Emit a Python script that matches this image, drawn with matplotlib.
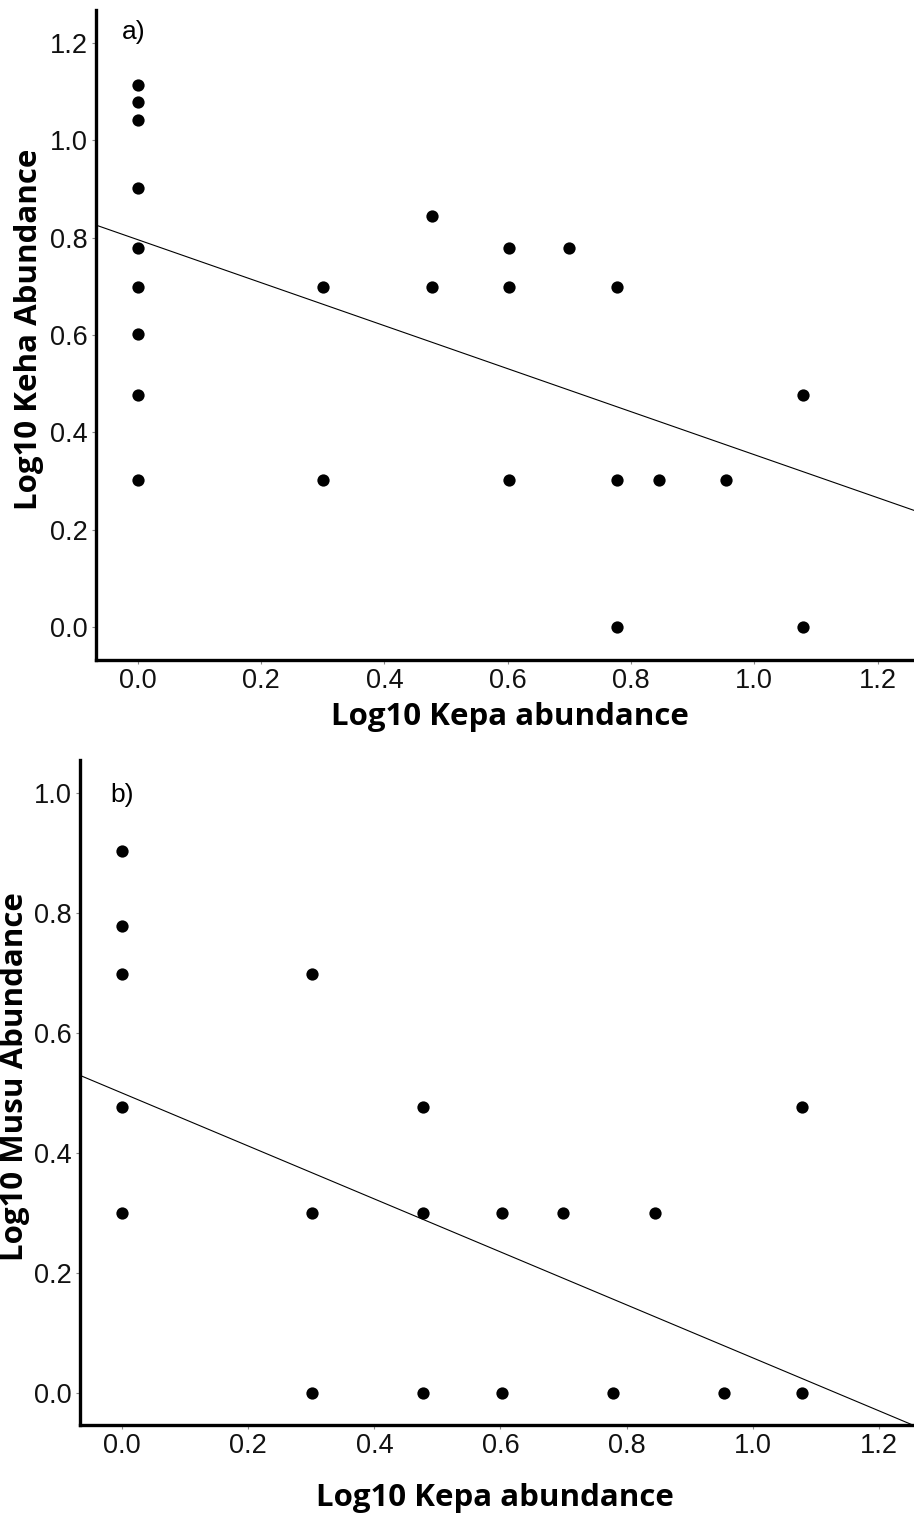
import matplotlib
matplotlib.use("Agg")
import matplotlib.pyplot as plt
import numpy as np

# Panel a data
kepa_a = [0, 0, 0, 0, 0, 0, 0, 0, 0,
          0.301, 0.301,
          0.477, 0.477,
          0.602, 0.602, 0.602,
          0.699,
          0.778, 0.778, 0.778,
          0.845,
          0.954,
          1.079, 1.079]
keha_a = [1.114, 1.079, 1.041, 0.903, 0.778, 0.699, 0.602, 0.477, 0.301,
          0.699, 0.301,
          0.845, 0.699,
          0.778, 0.699, 0.301,
          0.778,
          0.699, 0.301, 0.0,
          0.301,
          0.301,
          0.477, 0.0]
fit_a = (0.796, -0.442)  # intercept, slope

# Panel b data
kepa_b = [0, 0, 0, 0, 0,
          0.301, 0.301, 0.301,
          0.477, 0.477, 0.477,
          0.602, 0.602,
          0.699,
          0.778,
          0.845,
          0.954,
          1.079, 1.079]
musu_b = [0.903, 0.778, 0.699, 0.477, 0.301,
          0.699, 0.301, 0.0,
          0.477, 0.301, 0.0,
          0.301, 0.0,
          0.301,
          0.0,
          0.301,
          0.0,
          0.477, 0.0]
fit_b = (0.500, -0.441)

xticks = [0.0, 0.2, 0.4, 0.6, 0.8, 1.0, 1.2]
yticks_a = [0.0, 0.2, 0.4, 0.6, 0.8, 1.0, 1.2]
yticks_b = [0.0, 0.2, 0.4, 0.6, 0.8, 1.0]

W, H = 914, 1517
fig = plt.figure(figsize=(W / 100, H / 100), dpi=100)

tickfont = "Liberation Sans"
labelfont = "Open Sans"


def make_panel(rect, xs, ys, fit, xlim, ylim, yticks, tag, tagpos):
    ax = fig.add_axes(rect)
    ax.scatter(xs, ys, s=78, color="black", zorder=3, linewidths=0)
    xl = np.array(xlim)
    ax.plot(xl, fit[0] + fit[1] * xl, color="black", lw=0.8, zorder=2)
    ax.set_xlim(*xlim)
    ax.set_ylim(*ylim)
    ax.set_xticks(xticks)
    ax.set_yticks(yticks)
    ax.set_xticklabels([f"{v:.1f}" for v in xticks], fontsize=19.5, family=tickfont, color="#111111")
    ax.set_yticklabels([f"{v:.1f}" for v in yticks], fontsize=19.5, family=tickfont, color="#111111")
    for s in ["top", "right"]:
        ax.spines[s].set_visible(False)
    for s in ["left", "bottom"]:
        ax.spines[s].set_linewidth(2.4)
    ax.tick_params(length=3, width=0.8, color="#888888", pad=3)
    ax.text(tagpos[0], tagpos[1], tag, transform=ax.transAxes, fontsize=19, family=tickfont,
            va="top", ha="left")
    return ax


ax1 = make_panel([96 / W, 1 - 660 / H, 1 - 96 / W, (660 - 10) / H],
                 kepa_a, keha_a, fit_a, (-0.0676, 1.259), (-0.068, 1.268),
                 yticks_a, "a)", (0.032, 0.985))
ax2 = make_panel([80 / W, 1 - 1425 / H, 1 - 80 / W, (1425 - 760) / H],
                 kepa_b, musu_b, fit_b, (-0.067, 1.256), (-0.053, 1.055),
                 yticks_b, "b)", (0.036, 0.965))

lab = dict(fontsize=22.5, fontweight="bold", family=labelfont, ha="center", va="center")
fig.text(29 / W, 1 - 329 / H, "Log10 Keha Abundance", rotation=90, **lab)
fig.text(15 / W, 1 - 1077 / H, "Log10 Musu Abundance", rotation=90, **lab)
fig.text(510 / W, 1 - 717 / H, "Log10 Kepa abundance", **lab)
fig.text(495 / W, 1 - 1498 / H, "Log10 Kepa abundance", **lab)

fig.savefig("out.png", dpi=100)
